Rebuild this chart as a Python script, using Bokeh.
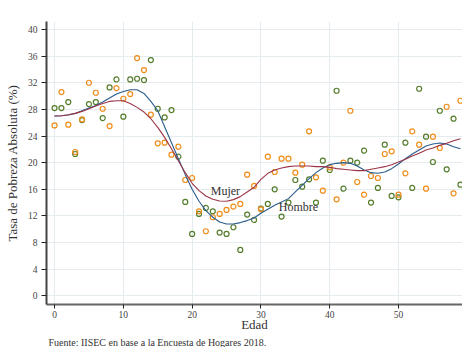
from bokeh.plotting import figure
from bokeh.models import Range1d, FixedTicker, Label, Title
from bokeh.embed import file_html
from bokeh.resources import INLINE

edad = list(range(60))
hombre = [28.2, 28.2, 29.1, 21.3, 26.4, 28.8, 29.1, 26.7, 31.3, 32.5,
          26.9, 32.5, 32.6, 32.4, 35.4, 28.1, 26.8, 27.9, 20.9, 14.1,
          9.3, 12.3, 13.2, 12.7, 9.5, 9.3, 10.3, 6.9, 12.2, 11.4,
          13.1, 13.8, 16.0, 11.9, 14.0, 17.4, 16.4, 17.5, 14.0, 20.3,
          18.9, 30.8, 16.1, 20.3, 20.0, 21.8, 14.0, 16.2, 22.7, 15.0,
          14.8, 23.0, 16.2, 31.1, 23.9, 20.1, 27.8, 19.0, 26.6, 16.7]
mujer = [25.6, 30.6, 25.7, 21.6, 26.5, 32.0, 30.5, 28.1, 25.5, 31.2,
         29.6, 30.3, 35.7, 33.9, 27.2, 22.9, 23.0, 21.2, 22.4, 17.4,
         17.7, 12.7, 9.7, 11.8, 12.3, 12.9, 13.4, 13.8, 18.2, 16.5,
         13.0, 20.9, 18.6, 20.6, 20.6, 18.5, 19.7, 24.7, 17.8, 15.8,
         19.3, 14.5, 20.0, 27.8, 17.1, 15.2, 18.0, 17.7, 21.3, 21.7,
         15.2, 18.4, 24.7, 22.7, 16.1, 23.9, 22.2, 28.4, 15.4, 29.3]
hombre_suave = [27.0, 27.05, 27.15, 27.4, 27.8, 28.2, 28.6, 29.1, 29.7, 30.3,
                30.7, 30.95, 30.95, 30.4, 29.2, 27.8, 25.4, 23.0, 20.6, 18.2,
                16.0, 14.2, 12.8, 11.8, 11.1, 10.8, 10.8, 11.0, 11.3, 11.7,
                12.4, 13.0, 13.6, 14.1, 14.6, 15.6, 16.6, 17.6, 18.5, 19.2,
                19.7, 19.9, 20.0, 19.9, 19.5, 18.9, 18.5, 18.4, 18.6, 19.1,
                19.8, 20.6, 21.3, 21.9, 22.5, 22.8, 22.95, 22.8, 22.4, 22.1]
mujer_suave = [27.0, 27.05, 27.2, 27.4, 27.7, 28.1, 28.5, 28.9, 29.2, 29.3,
               29.3, 28.9, 28.3, 27.6, 26.6, 25.3, 23.8, 22.1, 20.3, 18.5,
               16.9, 15.8, 15.0, 14.5, 14.25, 14.2, 14.45, 14.9, 15.6, 16.3,
               17.5, 18.4, 18.9, 19.2, 19.4, 19.5, 19.5, 19.5, 19.4, 19.4,
               19.3, 19.1, 19.0, 18.9, 18.8, 18.8, 19.0, 19.2, 19.4, 19.7,
               20.1, 20.5, 21.0, 21.4, 21.9, 22.2, 22.6, 22.9, 23.3, 23.6]
y_ticks = [0, 4, 8, 12, 16, 20, 24, 28, 32, 36, 40]
x_ticks = [0, 10, 20, 30, 40, 50, 60]

FONT = "Liberation Serif"
GREEN = "#557d2c"
ORANGE = "#f08c1a"
BLUE = "#2b5b8c"
RED = "#9b3447"

p = figure(width=462, height=347, output_backend="svg", toolbar_location=None,
           x_range=Range1d(-1.17, 59.3), y_range=Range1d(-1.3, 41.2),
           min_border_left=46, min_border_right=0, min_border_top=21,
           min_border_bottom=0)
p.outline_line_color = None
p.background_fill_color = "white"

p.xgrid.grid_line_color = "#e4ecef"
p.ygrid.grid_line_color = "#e4ecef"
p.xgrid.grid_line_width = 1
p.ygrid.grid_line_width = 1

p.scatter(edad, hombre, size=5, marker="circle", fill_color=None,
          line_color=GREEN, line_width=1.2)
p.scatter(edad, mujer, size=5, marker="circle", fill_color=None,
          line_color=ORANGE, line_width=1.2)
p.line(edad, hombre_suave, line_color=BLUE, line_width=1.1)
p.line(edad, mujer_suave, line_color=RED, line_width=1.1)

for ax in (p.xaxis[0], p.yaxis[0]):
    ax.axis_line_color = "#444444"
    ax.axis_line_width = 2
    ax.major_tick_line_color = "#222222"
    ax.major_tick_line_width = 1
    ax.major_tick_out = 5
    ax.major_tick_in = 0
    ax.minor_tick_out = 0
    ax.minor_tick_in = 0
    ax.major_label_text_font = FONT
    ax.major_label_text_font_size = "9.5px"
    ax.major_label_text_color = "#444444"
    ax.axis_label_text_font = FONT
    ax.axis_label_text_font_style = "normal"
    ax.axis_label_text_color = "#333333"

p.xaxis[0].axis_line_color = "#666666"
p.xaxis.ticker = FixedTicker(ticks=x_ticks)
p.yaxis.ticker = FixedTicker(ticks=y_ticks)
p.xaxis.major_tick_out = 4
p.xaxis.major_label_standoff = 2
p.yaxis.major_label_standoff = 4
p.yaxis.axis_label = "Tasa de Pobreza Absoluta (%)"
p.yaxis.axis_label_text_font_size = "13px"
p.yaxis.axis_label_standoff = 5
p.xaxis.axis_label = "Edad"
p.xaxis.axis_label_text_font_size = "13px"
p.xaxis.axis_label_standoff = -4

foot = Title(text="Fuente: IISEC en base a la Encuesta de Hogares 2018.",
             align="left", text_font=FONT, text_font_size="10px",
             text_font_style="normal", text_color="#333333",
             standoff=0, offset=2)
p.add_layout(foot, "below")

p.add_layout(Label(x=22.7, y=15.7, text="Mujer", text_font=FONT,
                   text_font_size="12px", text_color="#333333",
                   text_baseline="middle"))
p.add_layout(Label(x=32.6, y=13.3, text="Hombre", text_font=FONT,
                   text_font_size="12px", text_color="#333333",
                   text_baseline="middle"))

open("out.html", "w").write(file_html(p, INLINE))
